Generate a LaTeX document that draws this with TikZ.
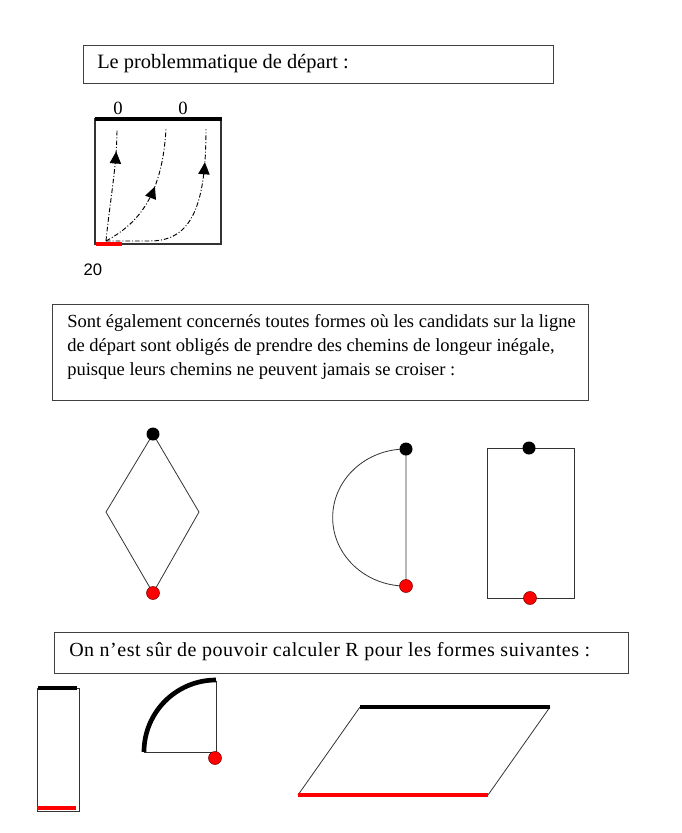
\documentclass[tikz,border=0pt]{standalone}
\usepackage{fontspec}
\setmainfont{Liberation Serif}
\newfontfamily\arialfont{Liberation Sans}
\newfontfamily\widefont[LetterSpace=2.6]{Liberation Serif}
\usetikzlibrary{arrows.meta,decorations.markings}

\begin{document}
\begin{tikzpicture}[x=0.75pt,y=-0.75pt]
    \tikzstyle{frame}=[draw=black!75, line width=0.9pt, inner sep=0pt, anchor=north west]
    \tikzstyle{txt}=[anchor=west, inner sep=0pt, align=left]
    \tikzstyle{thin}=[draw=black!80, line width=0.6pt]
    \tikzstyle{goal}=[draw=black, line width=3pt]
    \tikzstyle{start}=[draw=red, line width=3pt]
    \tikzstyle{bdot}=[circle, fill=black, inner sep=0pt, minimum size=9.75pt]
    \tikzstyle{rdot}=[circle, fill=red, draw=red!45!black, line width=0.4pt, inner sep=0pt, minimum size=9.75pt]
    \tikzstyle{route}=[draw=black, line width=0.7pt, dash pattern=on 3.5pt off 1.5pt on 0.75pt off 1.5pt]
    \tikzset{tip/.style={decoration={markings, mark=at position #1 with {\arrow{Triangle[length=9pt,width=8.5pt]}}}, postaction={decorate}}}
    \useasboundingbox (0,0) rectangle (682,833);
    % the starting problem
    \node[frame, minimum width=352.5pt, minimum height=28.5pt] (box1) at (83,45) {};
    \node[txt, font=\fontsize{15.3}{18}\selectfont] (t1) at (97,64) {Le problemmatique de départ :};
    \coordinate (sqtl) at (95,119);
    \coordinate (sqtr) at (222,119);
    \coordinate (sqbr) at (221,244);
    \draw[thin, line width=0.9pt] (sqtl) rectangle (sqbr);
    \draw[goal] (sqtl) -- (sqtr);
    \draw[start] (96,244) -- (122,244);
    \coordinate (o) at (106,241);
    \draw[route, tip=0.8] (o) .. controls (110,200) and (117,165) .. (117,129);
    \draw[route, tip=0.56] (o) .. controls (135,225) and (162,200) .. (166,129);
    \draw[route, tip=0.82] (o) -- (150,241) .. controls (192,241) and (206,205) .. (206,129);
    \node[font=\fontsize{14}{16}\selectfont] (z1) at (118,108) {0};
    \node[font=\fontsize{14}{16}\selectfont] (z2) at (183,108) {0};
    \node[font=\arialfont\fontsize{12.5}{15}\selectfont] (lab20) at (93,270) {20};
    % other shapes concerned
    \node[frame, minimum width=402pt, minimum height=72pt] (box2) at (52,304) {};
    \node[txt, font=\fontsize{13.9}{18}\selectfont] (t2) at (67,347) {Sont également concernés toutes formes où les candidats sur la ligne\\de départ sont obligés de prendre des chemins de longeur inégale,\\puisque leurs chemins ne peuvent jamais se croiser :};
    % losange
    \coordinate (ltop) at (153,434);
    \coordinate (lright) at (199,512);
    \coordinate (lbot) at (153,593);
    \coordinate (lleft) at (106,512);
    \draw[thin] (ltop) -- (lright) -- (lbot) -- (lleft) -- cycle;
    \node[bdot] (ltopdot) at (ltop) {};
    \node[rdot] (lbotdot) at (lbot) {};
    % half disc
    \coordinate (htop) at (406,449);
    \coordinate (hbot) at (406,586);
    \draw[thin] (htop) arc[start angle=90, end angle=270, x radius=55pt, y radius=51.4pt] -- (htop);
    \node[bdot] (htopdot) at (htop) {};
    \node[rdot] (hbotdot) at (hbot) {};
    % rectangle
    \draw[thin] (487,448) rectangle (574,598);
    \node[bdot] (rtopdot) at (529,448) {};
    \node[rdot] (rbotdot) at (530,598) {};
    % shapes where R can be computed
    \node[frame, minimum width=430.5pt, minimum height=30.75pt] (box3) at (54,632) {};
    \node[txt, font=\widefont\fontsize{15}{18}\selectfont] (t3) at (69,652) {On n’est sûr de pouvoir calculer R pour les formes suivantes :};
    % tall strip
    \draw[thin] (37,688) rectangle (79,811);
    \draw[goal] (38,688) -- (77,688);
    \draw[start] (37,808) -- (76,808);
    % quarter disc
    \coordinate (qc) at (216,752);
    \coordinate (qleft) at (144,752);
    \coordinate (qtop) at (216,681);
    \draw[thin] (qleft) -- (qc) -- (qtop);
    \draw[goal, line width=3.5pt] (qleft) arc[start angle=180, end angle=90, radius=54pt];
    \node[rdot] (qdot) at (215,758) {};
    % parallelogram
    \coordinate (ptl) at (360,707);
    \coordinate (ptr) at (550,707);
    \coordinate (pbr) at (488,795);
    \coordinate (pbl) at (298,795);
    \draw[thin] (ptl) -- (pbl);
    \draw[thin] (ptr) -- (pbr);
    \draw[goal] (ptl) -- (ptr);
    \draw[start] (pbl) -- (pbr);
  \end{tikzpicture}
\end{document}
